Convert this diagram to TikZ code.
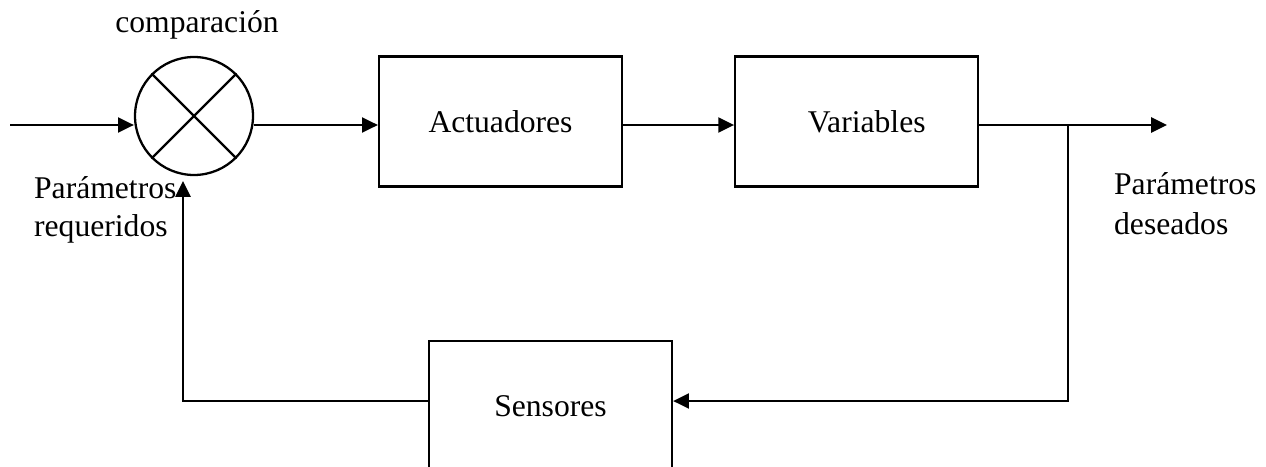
\documentclass[tikz,border=0pt]{standalone}
\usepackage{fontspec}
\setmainfont{Liberation Serif}
\usepackage{tikz}
\usetikzlibrary{arrows.meta, positioning}
\tikzset{
    block/.style={rectangle, draw, text centered, minimum width=4.86cm, minimum height=2.6cm, inner sep=0pt},
    sumnode/.style={circle, draw, minimum size=2.36cm, inner sep=0pt},
    arrow/.style={-{Triangle[length=9pt, width=8.5pt]}},
    labelstyle/.style={font=\fontsize{18}{21.6}\selectfont},
}

\begin{document}
\begin{tikzpicture}[x=0.02cm, y=-0.02cm, line width=1.3pt, labelstyle]
    \useasboundingbox (0,0) rectangle (1266,466);

    % Nodes
    \node[sumnode] (comp) at (194,116) {};
    \node[block] (act) at (500.5,121.5) {Actuadores};
    \node[block, right=2.22cm of act] (var) {\hspace{0.4cm}Variables};
    \node[block] (sens) at (550.5,406) {Sensores\hspace{0.36cm}};

    % cross inside the comparator
    \draw (comp.135) -- (comp.-45);
    \draw (comp.45) -- (comp.-135);

    % Labels
    \node[anchor=base] (cmplabel) at (197,33) {comparación};
    \node[align=left, anchor=north west, inner sep=0pt] (reqlabel) at (33,175) {Parámetros\\requeridos};
    \node[align=left, anchor=north west, inner sep=0pt, font=\fontsize{18}{22.8}\selectfont] (deslabel) at (1113,171) {Parámetros\\deseados};

    % Helper points
    \coordinate (in) at (10,125);
    \coordinate (out) at (1167,125);
    \coordinate (br) at (1068,125);
    \coordinate (bot) at (183,401);
    \coordinate (fbtop) at (183,181);

    % Arrows
    \draw[arrow] (in) -- (in -| comp.west);
    \draw[arrow] (comp.east |- in) -- (in -| act.west);
    \draw[arrow] (act.east |- in) -- (in -| var.west);
    \draw[arrow] (var.east |- in) -- (out);
    \draw[arrow] (br) |- (sens.east |- bot);
    \draw[arrow] (sens.west |- bot) -- (bot) -- (fbtop);

\end{tikzpicture}
\end{document}
